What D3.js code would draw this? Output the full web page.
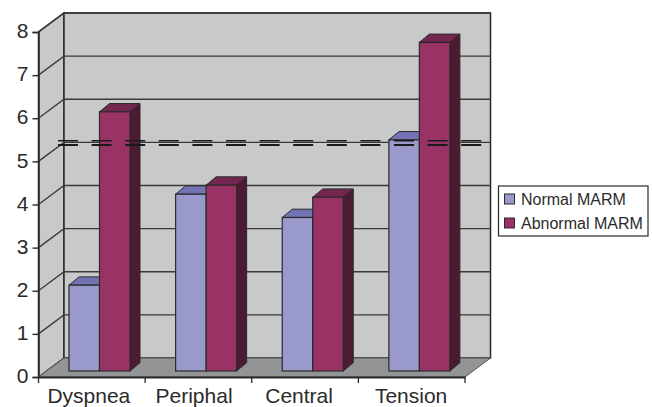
<!DOCTYPE html>
<html>
<head>
<meta charset="utf-8">
<script src="https://cdn.jsdelivr.net/npm/d3@7"></script>
<style>
  html, body { margin: 0; padding: 0; background: #fff; }
  svg { display: block; }
  text { font-family: "Liberation Sans", Arial, sans-serif; fill: #2b2b2b; }
</style>
</head>
<body>
<div id="chart"></div>
<script>
const categories = ["Dyspnea", "Periphal", "Central", "Tension"];
const seriesNames = ["Normal MARM", "Abnormal MARM"];
const normalValues = [1.99, 4.1, 3.56, 5.36];
const abnormalValues = [6.01, 4.31, 4.03, 7.62];
const yTicks = [0, 1, 2, 3, 4, 5, 6, 7, 8];
const cutoffValues = [5.48, 5.38];
const seriesColors = ["#9999cc", "#993366"];
const topColors = ["#7373b3", "#732650"];
const sideColors = ["#5c5c99", "#4d1a33"];

const width = 652, height = 407;
const edge = "#2a2a2a";

// wall depth and bar depth, in pixels
const depthX = 25.5, depthY = -19;
const barDepthX = 10, barDepthY = -8.3;
const barBase = -6; // bars stand on the floor, a bit behind the front edge

// the labels in the original are not centred on their bands
const labelNudge = [-3, -4.4, -6, -0.6];

const svg = d3.select("#chart").append("svg")
  .attr("width", width)
  .attr("height", height);

const x0 = d3.scaleBand().domain(categories).range([38.5, 465]);
const x1 = d3.scaleBand().domain(seriesNames).range([30.5, 91.5]);
const y = d3.scaleLinear().domain([0, 8]).range([377, 32]);

const line = d3.line();

// walls
svg.append("path")
  .attr("d", line([[x0.range()[0], y(0)], [x0.range()[0], y(8)], [x0.range()[0] + depthX, y(8) + depthY], [x0.range()[0] + depthX, y(0) + depthY]]) + "Z")
  .attr("fill", "#c8c9cb").attr("stroke", edge).attr("stroke-width", 1.5);

svg.append("rect")
  .attr("x", x0.range()[0] + depthX)
  .attr("y", y(8) + depthY)
  .attr("width", x0.range()[1] - x0.range()[0])
  .attr("height", y(0) - y(8))
  .attr("fill", "#c8c9cb").attr("stroke", edge).attr("stroke-width", 1.5);

// floor
svg.append("path")
  .attr("d", line([[x0.range()[0], y(0)], [x0.range()[0] + depthX, y(0) + depthY], [x0.range()[1] + depthX, y(0) + depthY], [x0.range()[1], y(0)]]) + "Z")
  .attr("fill", "#929496").attr("stroke", "#555").attr("stroke-width", 1);

// gridlines, front tick out to back wall and across
svg.selectAll(".grid")
  .data(yTicks.slice(1))
  .enter().append("path")
  .attr("class", "grid")
  .attr("fill", "none")
  .attr("stroke", "#3a3a3a")
  .attr("stroke-width", 1.3)
  .attr("d", d => line([[x0.range()[0], y(d)], [x0.range()[0] + depthX, y(d) + depthY], [x0.range()[1] + depthX, y(d) + depthY]]));

// bars
const barFloor = y(0) + barBase;
const groups = svg.selectAll(".group")
  .data(categories)
  .enter().append("g")
  .attr("class", "group")
  .attr("transform", d => "translate(" + x0(d) + ",0)");

const seriesValues = [normalValues, abnormalValues];
seriesNames.forEach((name, s) => {
  const bw = x1.bandwidth();
  const bars = groups.append("g");
  const top = (d, i) => barFloor - (y(0) - y(seriesValues[s][i]));

  bars.append("path")
    .attr("fill", sideColors[s]).attr("stroke", edge).attr("stroke-width", 1)
    .attr("d", (d, i) => {
      const xr = x1(name) + bw;
      return line([[xr, barFloor], [xr, top(d, i)], [xr + barDepthX, top(d, i) + barDepthY], [xr + barDepthX, barFloor + barDepthY]]) + "Z";
    });

  bars.append("path")
    .attr("fill", topColors[s]).attr("stroke", edge).attr("stroke-width", 1)
    .attr("d", (d, i) => {
      const xl = x1(name);
      return line([[xl, top(d, i)], [xl + barDepthX, top(d, i) + barDepthY], [xl + bw + barDepthX, top(d, i) + barDepthY], [xl + bw, top(d, i)]]) + "Z";
    });

  bars.append("rect")
    .attr("x", x1(name))
    .attr("y", (d, i) => top(d, i))
    .attr("width", bw)
    .attr("height", (d, i) => barFloor - top(d, i))
    .attr("fill", seriesColors[s]).attr("stroke", edge).attr("stroke-width", 1.2);
});

// dashed cutoff lines over the bars
svg.selectAll(".cutoff")
  .data(cutoffValues)
  .enter().append("line")
  .attr("class", "cutoff")
  .attr("x1", 58).attr("x2", 483)
  .attr("y1", d => y(d)).attr("y2", d => y(d))
  .attr("stroke", "#1a1a1a")
  .attr("stroke-width", (d, i) => i ? 2 : 1.4)
  .attr("stroke-dasharray", "20 13.6");

// axes
const yAxis = d3.axisLeft(y).tickValues(yTicks).tickSize(6).tickPadding(4);
const yG = svg.append("g").attr("transform", "translate(38.5,0)").call(yAxis);
yG.selectAll("text").style("font-size", "21px").attr("dy", "0.27em");
yG.selectAll("line").attr("stroke", edge).attr("stroke-width", 1.4);
yG.select(".domain").attr("stroke", edge).attr("stroke-width", 1.5);

const xAxis = d3.axisBottom(x0).tickSize(0).tickPadding(11);
const xG = svg.append("g").attr("transform", "translate(0," + y(0) + ")").call(xAxis);
xG.selectAll("text").style("font-size", "21px").attr("dx", (d, i) => labelNudge[i]);
xG.select(".domain").attr("stroke", edge).attr("stroke-width", 2);

svg.append("g")
  .selectAll("line")
  .data(categories.map(c => x0(c)).concat(x0.range()[1]))
  .enter().append("line")
  .attr("x1", d => d).attr("x2", d => d)
  .attr("y1", y(0)).attr("y2", y(0) + 6)
  .attr("stroke", edge).attr("stroke-width", 1.3);

// legend
const legend = svg.append("g").attr("transform", "translate(498.5,186)");
legend.append("rect")
  .attr("width", 149.5).attr("height", 50)
  .attr("fill", "#fff").attr("stroke", edge).attr("stroke-width", 1.2);
const items = legend.selectAll(".item")
  .data(seriesNames)
  .enter().append("g")
  .attr("class", "item")
  .attr("transform", (d, i) => "translate(6," + (8 + i * 24) + ")");
items.append("rect")
  .attr("width", 10).attr("height", 10)
  .attr("fill", (d, i) => seriesColors[i])
  .attr("stroke", edge).attr("stroke-width", 1);
items.append("text")
  .attr("x", 16.5).attr("y", 10.5)
  .style("font-size", "16px")
  .text(d => d);
</script>
</body>
</html>
